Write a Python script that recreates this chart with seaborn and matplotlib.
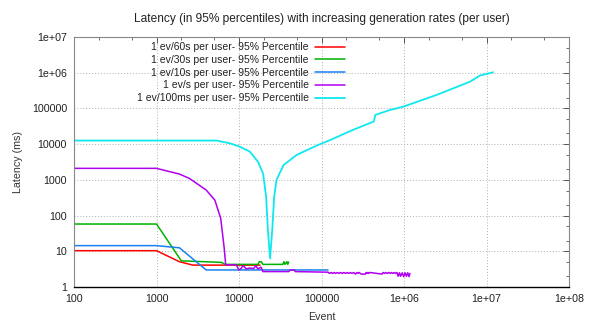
import matplotlib
matplotlib.use("Agg")
import matplotlib.pyplot as plt
import matplotlib.ticker as mticker
import numpy as np
import pandas as pd
import seaborn as sns

# series (event count, 95% latency in ms)
ev60_x = [100, 1000, 1900, 2760, 7000, 18000]
ev60_y = [10.4, 10.4, 5.1, 4.1, 4.1, 4.1]

ev30_x = [100, 1000, 2000, 6100, 6800, 17000, 17600, 18600, 19500, 34000, 35000,
          36000, 38000, 39000, 40000]
ev30_y = [58, 58, 5.4, 4.9, 4.3, 4.3, 5.1, 5.1, 4.3, 4.3, 5.1, 4.3, 5.1, 4.3, 5.0]

ev10_x = [100, 1000, 1900, 4000, 120000]
ev10_y = [14.4, 14.4, 12.5, 3.0, 3.0]

ev1_x = [100, 1000, 1900, 2500, 4000, 5100, 6000, 6600, 6900, 8500, 9300, 10000,
         10600, 11200, 12300, 13500, 15000, 16000, 17000, 18500, 19500, 40000,
         42000, 47000, 48000, 120000, 125000, 130000, 136000, 142000, 148000,
         155000, 162000, 170000, 178000, 186000, 195000, 204000, 214000, 224000,
         235000, 246000, 258000, 270000, 278000, 286000, 295000, 305000, 340000,
         348000, 356000, 365000, 374000, 384000, 540000, 560000, 580000, 600000,
         625000, 650000, 675000, 700000, 730000, 760000, 790000, 820000, 850000,
         880000, 910000, 950000, 990000, 1030000, 1070000, 1110000, 1150000,
         1180000]
ev1_y = [2100, 2100, 1450, 1100, 520, 270, 84, 13, 4.2, 4.2, 4.1, 3.0,
         3.3, 4.0, 3.2, 3.4, 3.3, 3.9, 3.2, 3.6, 2.7, 2.7,
         3.0, 3.0, 2.7, 2.6, 2.4, 2.55, 2.4, 2.55, 2.4,
         2.55, 2.4, 2.55, 2.4, 2.55, 2.4, 2.55, 2.4, 2.55,
         2.4, 2.55, 2.3, 2.55, 2.4, 2.55, 2.4, 2.3, 2.3,
         2.55, 2.4, 2.55, 2.4, 2.55, 2.3, 2.55, 2.4, 2.55,
         2.4, 2.55, 2.4, 2.55, 2.4, 2.55, 2.4, 2.55, 2.0,
         2.5, 2.0, 2.5, 1.95, 2.5, 2.0, 2.5, 1.95,
         2.4]

ev100ms_x = [100, 5400, 7800, 10200, 13500, 17000, 19600, 21300, 22400, 23800,
             25300, 26700, 28500, 34700, 50000, 91000, 127000, 240000, 430000,
             450000, 680000, 980000, 2500000, 6300000, 8300000, 12000000]
ev100ms_y = [12600, 12600, 10500, 8500, 6200, 3200, 1500, 340, 40, 6.3,
             40, 340, 1000, 2600, 5000, 9500, 13000, 25000, 43000,
             66000, 91000, 112000, 240000, 560000, 830000, 1030000]

series_names = ["1 ev/60s per user- 95% Percentile",
                "1 ev/30s per user- 95% Percentile",
                "1 ev/10s per user- 95% Percentile",
                "1 ev/s per user- 95% Percentile",
                "1 ev/100ms per user- 95% Percentile"]
series_colors = ["#ff0000", "#00b000", "#1a80f0", "#b000f0", "#10e8f0"]

x_ticks = [1e2, 1e3, 1e4, 1e5, 1e6, 1e7, 1e8]
x_labels = ["100", "1000", "10000", "100000", "1e+06", "1e+07", "1e+08"]
y_ticks = [1, 1e1, 1e2, 1e3, 1e4, 1e5, 1e6, 1e7]
y_labels = ["1", "10", "100", "1000", "10000", "100000", "1e+06", "1e+07"]

sns.set_style("white")
plt.rcParams["font.family"] = ["Liberation Sans", "DejaVu Sans"]

fig = plt.figure(figsize=(5.89, 3.27), dpi=100)
ax = fig.add_axes([74 / 589, 1 - 287 / 327, 495 / 589, 250 / 327])

all_x = [ev60_x, ev30_x, ev10_x, ev1_x, ev100ms_x]
all_y = [ev60_y, ev30_y, ev10_y, ev1_y, ev100ms_y]
widths = [1.1, 1.1, 1.1, 1.1, 1.3]
for xs, ys, name, col, lw in zip(all_x, all_y, series_names, series_colors, widths):
    df = pd.DataFrame({"event": xs, "latency": ys})
    sns.lineplot(data=df, x="event", y="latency", ax=ax, color=col, lw=lw,
                 label=name, estimator=None, sort=False)

ax.set_xscale("log")
ax.set_yscale("log")
ax.set_xlim(1e2, 1e8)
ax.set_ylim(1, 1e7)
ax.xaxis.set_major_locator(mticker.FixedLocator(x_ticks))
ax.xaxis.set_major_formatter(mticker.FixedFormatter(x_labels))
ax.yaxis.set_major_locator(mticker.FixedLocator(y_ticks))
ax.yaxis.set_major_formatter(mticker.FixedFormatter(y_labels))
ax.xaxis.set_minor_locator(mticker.LogLocator(base=10, subs=(2, 5), numticks=20))
ax.yaxis.set_minor_locator(mticker.LogLocator(base=10, subs=(2, 5), numticks=20))
ax.xaxis.set_minor_formatter(mticker.NullFormatter())
ax.yaxis.set_minor_formatter(mticker.NullFormatter())

ax.tick_params(which="both", direction="in", top=True, right=True,
               labelsize=7.7, colors="#222222", pad=5)
ax.tick_params(which="major", length=4, width=0.7, color="#555555")
ax.tick_params(which="minor", length=2, width=0.6, color="#555555")

ax.grid(True, which="major", color="#b0b0b0", linestyle=(0, (1, 2)), lw=0.7)
for side in ["left", "right", "top"]:
    ax.spines[side].set_color("#888888")
    ax.spines[side].set_linewidth(0.8)
ax.spines["bottom"].set_color("#000000")
ax.spines["bottom"].set_linewidth(1.0)

ax.set_title("Latency (in 95% percentiles) with increasing generation rates (per user)",
             fontsize=8.6, color="#222222", pad=10.5)
ax.set_xlabel("Event", fontsize=7.7, color="#333333", labelpad=5.5)
ax.set_ylabel("Latency (ms)", fontsize=7.7, color="#333333", labelpad=6)

leg = ax.legend(loc="upper right", bbox_to_anchor=(0.565, 1.012), frameon=False,
                markerfirst=False, fontsize=7.5, handlelength=2.9,
                handletextpad=0.6, labelspacing=0.26, borderpad=0.3)
for t in leg.get_texts():
    t.set_color("#222222")

fig.savefig("out.png", dpi=100)
